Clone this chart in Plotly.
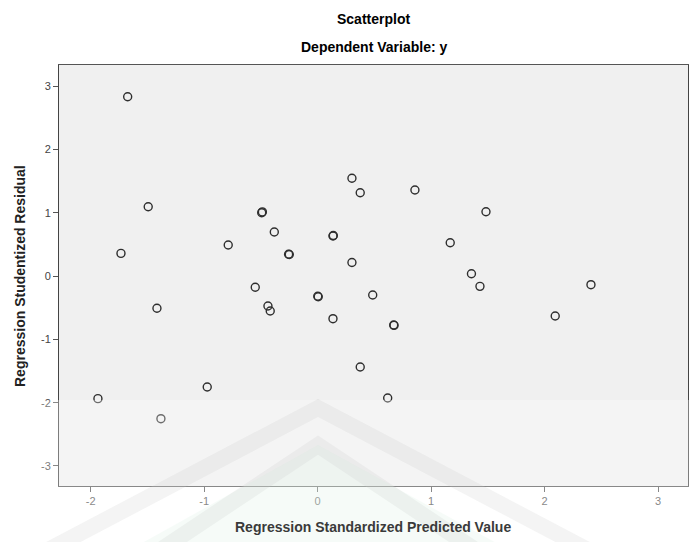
import plotly.graph_objects as go

# Data (standardized predicted value, studentized residual)
pred = [-1.674, -1.493, -1.733, -0.493, -0.487, -0.382, -0.788, -0.256, -0.250,
        0.135, 0.138, 0.302, 0.375, 0.302, 0.857, 1.483, 1.168, 1.355,
        -0.550, -1.416, -0.438, -0.418, 0.005, 0.001, 0.485, 0.135, 0.375,
        -0.973, -1.936, -1.381, 0.670, 0.673, 0.617, 1.430, 2.408, 2.093]
resid = [2.831, 1.094, 0.358, 1.000, 1.012, 0.695, 0.489, 0.343, 0.340,
         0.632, 0.640, 1.543, 1.315, 0.213, 1.358, 1.015, 0.526, 0.035,
         -0.178, -0.510, -0.474, -0.553, -0.327, -0.320, -0.300, -0.674, -1.437,
         -1.753, -1.937, -2.253, -0.774, -0.780, -1.926, -0.163, -0.137, -0.632]

x_ticks = [-2, -1, 0, 1, 2, 3]
y_ticks = [-3, -2, -1, 0, 1, 2, 3]

W, H = 691, 542
L, R, T, B = 59, 688, 65, 486


def px(xp):
    return (xp - L) / (R - L)


def py(yp):
    return (B - yp) / (B - T)


fig = go.Figure()
fig.add_trace(go.Scatter(
    x=pred, y=resid, mode="markers",
    marker=dict(symbol="circle-open", size=8, color="#2e2e2e",
                line=dict(width=1.4, color="#2e2e2e")),
    hoverinfo="x+y", showlegend=False,
))

font = "Liberation Sans, Arial, sans-serif"

shapes = []
# faint watermark: green inner field, two grey chevron bands, white veil
shapes.append(dict(type="path", xref="paper", yref="paper", layer="above",
                   path=f"M {px(40)},{py(600)} L {px(318)},{py(445)} L {px(600)},{py(600)} Z",
                   fillcolor="rgba(205,235,215,0.25)", line=dict(width=0)))
for apex, spread in [(408, 380), (445, 300)]:
    shapes.append(dict(type="path", xref="paper", yref="paper", layer="above",
                       path=f"M {px(318 - spread)},{py(apex + 200)} L {px(318)},{py(apex)} L {px(318 + spread)},{py(apex + 200)}",
                       line=dict(width=16, color="rgba(175,175,175,0.2)")))
shapes.append(dict(type="rect", xref="paper", yref="paper", layer="above",
                   x0=px(0), x1=px(W), y0=py(400), y1=py(H + 5),
                   fillcolor="rgba(255,255,255,0.3)", line=dict(width=0)))

annotations = [
    dict(text="<b>Scatterplot</b>", xref="paper", yref="paper", x=0.5, y=py(19),
         xanchor="center", yanchor="middle", showarrow=False,
         font=dict(family=font, size=14, color="#000")),
    dict(text="<b>Dependent Variable: y</b>", xref="paper", yref="paper", x=0.5, y=py(47),
         xanchor="center", yanchor="middle", showarrow=False,
         font=dict(family=font, size=14, color="#000")),
    dict(text="<b>Regression Standardized Predicted Value</b>", xref="paper", yref="paper",
         x=px(373), y=py(527), xanchor="center", yanchor="middle", showarrow=False,
         font=dict(family=font, size=14, color="#3a3a3a")),
    dict(text="<b>Regression Studentized Residual</b>", xref="paper", yref="paper",
         x=px(20), y=py(276), xanchor="center", yanchor="middle", showarrow=False,
         textangle=-90, font=dict(family=font, size=14, color="#222")),
]

fig.update_layout(
    width=W, height=H,
    margin=dict(l=L, r=W - R, t=T, b=H - B, pad=0),
    paper_bgcolor="white", plot_bgcolor="#f0f0f0",
    font=dict(family=font, size=11, color="#444"),
    shapes=shapes, annotations=annotations,
    xaxis=dict(range=[-2.279, 3.263], tickvals=x_ticks, ticktext=[str(v) for v in x_ticks],
               showgrid=False, zeroline=False, showline=True, linecolor="#555", linewidth=1,
               mirror=True, ticks="outside", ticklen=5, tickcolor="#555",
               tickfont=dict(family=font, size=11, color="#555")),
    yaxis=dict(range=[-3.316, 3.332], tickvals=y_ticks, ticktext=[str(v) for v in y_ticks],
               showgrid=False, zeroline=False, showline=True, linecolor="#444", linewidth=1,
               mirror=True, ticks="outside", ticklen=5, tickcolor="#555",
               tickfont=dict(family=font, size=11, color="#444")),
)

fig.write_html("out.html", config={"displayModeBar": False},
               post_script="document.body.style.margin='0';")
